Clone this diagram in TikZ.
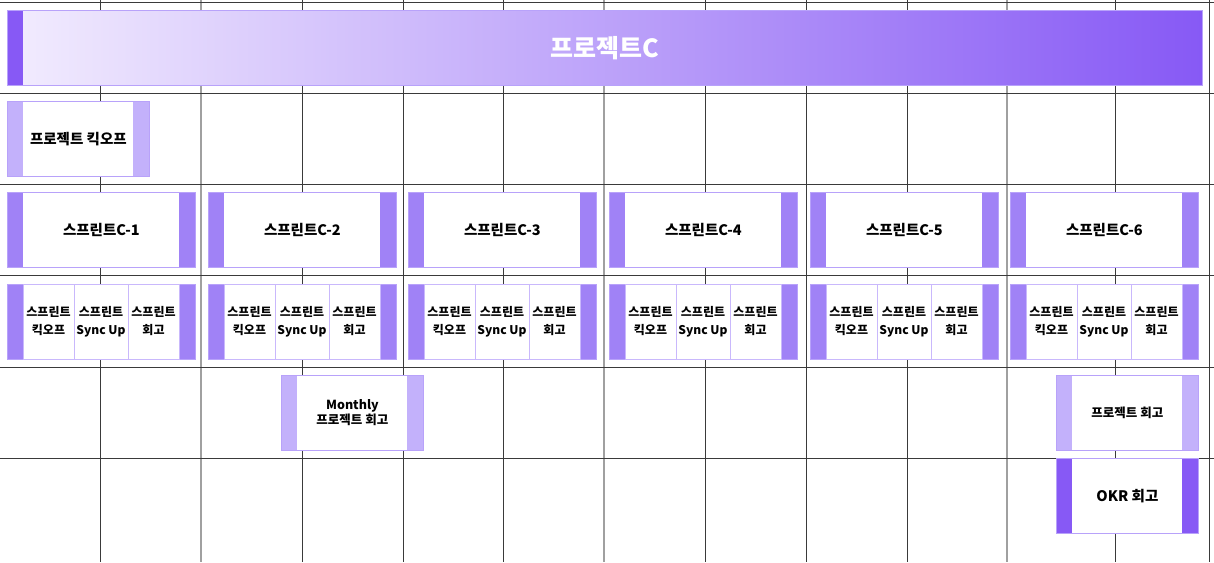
\documentclass[tikz,border=0pt]{standalone}
\usepackage{fontspec}
\setmainfont{Noto Sans CJK KR}
\usepackage{xcolor}
\usepackage{tikz}
\usetikzlibrary{positioning}

\definecolor{barDark}{HTML}{8759F5}
\definecolor{barMid}{HTML}{A082F6}
\definecolor{barLight}{HTML}{C3B1FB}
\definecolor{boxLine}{HTML}{B8A2FA}
\definecolor{cellLine}{HTML}{C9B8FC}
\definecolor{gridLine}{HTML}{3A3A3A}
\definecolor{monthLine}{HTML}{A0A0A0}
\definecolor{headLeft}{HTML}{F2ECFE}

\tikzset{
  slot/.style={rectangle, draw=boxLine, fill=white, line width=0.8pt,
    minimum width=142pt, minimum height=75pt, inner sep=0pt, anchor=north west,
    text=black, align=center, font=\bfseries\fontsize{12.5}{16}\selectfont,
    path picture={
      \fill[#1] (path picture bounding box.north west) rectangle ([xshift=16pt]path picture bounding box.south west);
      \fill[#1] (path picture bounding box.north east) rectangle ([xshift=-16pt]path picture bounding box.south east);}},
  cell/.style={rectangle, draw=cellLine, fill=white, line width=0.8pt,
    minimum height=75pt, inner sep=0pt, outer sep=0pt, align=center,
    font=\bfseries\fontsize{12}{18}\selectfont},
  gridrule/.style={gridLine, line width=0.8pt},
  monthrule/.style={monthLine, line width=1.6pt}
}

\begin{document}
\begin{tikzpicture}[x=1pt, y=-1pt]
        \useasboundingbox (0,0) rectangle (1214,562);
        % Grid
        \foreach \x in {100,302,403,503,705,806,907,1115,1209}
            \draw[gridrule] (\x,0) -- (\x,562);
        \foreach \x in {201,604,1007}
            \draw[monthrule] (\x,0) -- (\x,562);
        \foreach \y in {2,93,184,275,367,458}
            \draw[gridrule] (0,\y) -- (1214,\y);

        % Project
        \node[rectangle, draw=boxLine, line width=0.8pt, left color=headLeft, right color=barDark,
              minimum width=1195pt, minimum height=75pt, anchor=north west, text=white,
              font=\bfseries\fontsize{25}{30}\selectfont,
              path picture={\fill[barDark] (path picture bounding box.north west) rectangle ([xshift=16pt]path picture bounding box.south west);}]
              (project) at (7,10) {프로젝트C};
        \node[slot=barLight, font=\bfseries\fontsize{14.5}{17}\selectfont] (kickoff) at (7,101) {프로젝트 킥오프};

        % Sprints
        \foreach \i/\x in {1/7,2/208,3/408,4/609,5/810,6/1010} {
            \node[slot=barMid, minimum width=188pt, font=\bfseries\fontsize{14.5}{17}\selectfont] (sprint\i) at (\x,192) {스프린트C-\i};
            \node[slot=barMid, minimum width=188pt] (events\i) at (\x,284) {};
            \node[cell, minimum width=51pt, anchor=north west] (ek\i) at ([xshift=16pt]events\i.north west) {스프린트\\킥오프};
            \node[cell, minimum width=54pt, right=0pt of ek\i] (es\i) {스프린트\\Sync Up};
            \node[cell, minimum width=51pt, right=0pt of es\i] (er\i) {스프린트\\회고};
        }

        % Reviews
        \node[slot=barLight] (monthly) at (281,375) {Monthly\\[-1pt]프로젝트 회고};
        \node[slot=barLight] (review) at (1056,375) {프로젝트 회고};
        \node[slot=barDark, font=\bfseries\fontsize{14.5}{17}\selectfont] (okr) at (1056,458) {OKR 회고};
    \end{tikzpicture}
\end{document}
